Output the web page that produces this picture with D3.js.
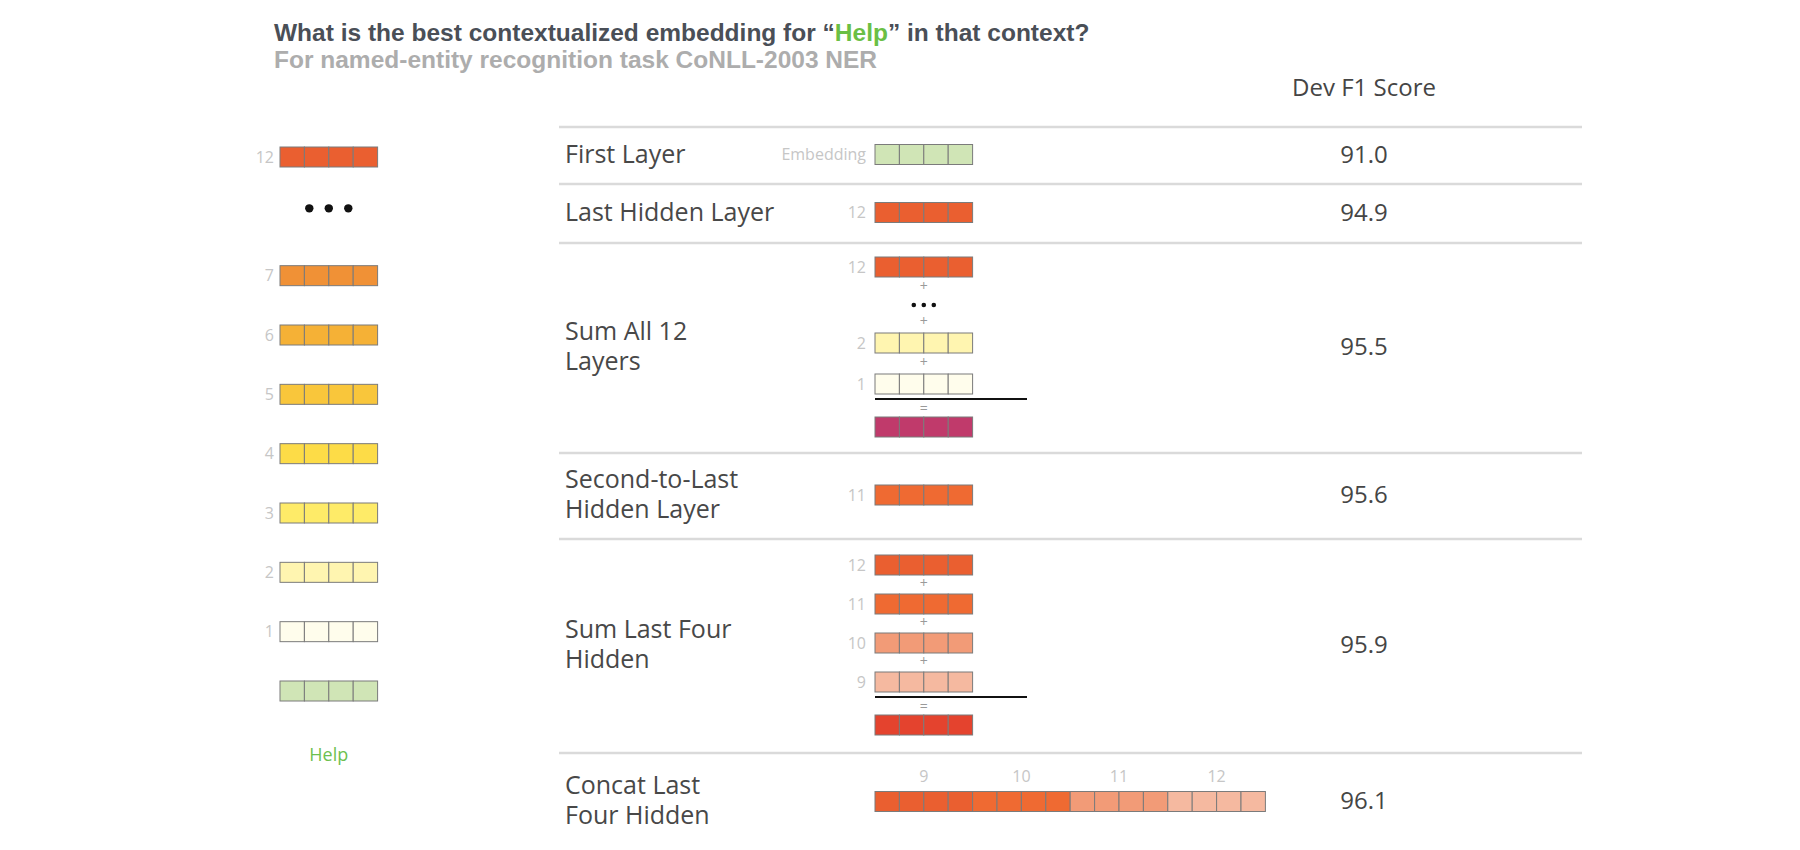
<!DOCTYPE html>
<html>
<head>
<meta charset="utf-8">
<script src="https://cdn.jsdelivr.net/npm/d3@7"></script>
<style>
  body { margin: 0; background: #fff; }
  text { font-family: "Open Sans", sans-serif; }
  .head { font-family: "Liberation Sans", Arial, sans-serif; font-weight: bold; }
</style>
</head>
<body>
<svg id="chart" width="1800" height="850"></svg>
<script>
// ---- data ----
const titleParts = ["What is the best contextualized embedding for \u201c", "Help", "\u201d in that context?"];
const subtitle = "For named-entity recognition task CoNLL-2003 NER";
const scoreHeader = "Dev F1 Score";
const token = "Help";

// layers shown down the left side, "…" stands for the skipped ones
const leftLayers = ["12", "…", "7", "6", "5", "4", "3", "2", "1", "emb"];
const layerColor = {
  "12": "#ea5f30", "11": "#ef6a32", "10": "#f29b77", "9": "#f5b9a0",
  "7": "#f09136", "6": "#f5b136", "5": "#f9c63b", "4": "#fddc47",
  "3": "#feeb68", "2": "#fff5b0", "1": "#fffdec", "emb": "#d0e5b6",
  "sumAll": "#c03a6b", "sumLast4": "#e4432e"
};

const methods = [["First Layer"], ["Last Hidden Layer"], ["Sum All 12", "Layers"],
                 ["Second-to-Last", "Hidden Layer"], ["Sum Last Four", "Hidden"], ["Concat Last", "Four Hidden"]];
const devF1 = [91.0, 94.9, 95.5, 95.6, 95.9, 96.1];
const inputs = [["emb"], ["12"], ["12", "…", "2", "1"], ["11"], ["12", "11", "10", "9"], ["12", "11", "10", "9"]];
const combine = ["none", "none", "sum", "none", "sum", "concat"];
const outputs = [null, null, "sumAll", null, "sumLast4", null];
const concatLabels = ["9", "10", "11", "12"];

// ---- layout ----
const svg = d3.select("#chart");
const CELL = 24.4, VH = 20, NCELL = 4;
const ROW_H = [57, 59, 210, 86, 214, 97];
const TABLE_TOP = 127, TABLE_X0 = 559, TABLE_X1 = 1582;
const LABEL_X = 565, VEC_X = 875, SCORE_X = 1364, LH = 30;
const rowTop = [TABLE_TOP, ...d3.cumsum(ROW_H).map(v => v + TABLE_TOP)].slice(0, ROW_H.length);

function layerLabel(l) { return l === "emb" ? "Embedding" : l; }

// draws a word vector of cells
function vector(g, x, y, fills) {
  const cx = d3.scaleBand().domain(d3.range(fills.length)).range([0, fills.length * CELL]);
  g.append("g").attr("transform", `translate(${x},${y})`)
    .selectAll("rect").data(fills).join("rect")
    .attr("x", (d, i) => cx(i)).attr("y", 0)
    .attr("width", cx.bandwidth()).attr("height", VH)
    .attr("fill", d => d).attr("stroke", "#7b7b7b").attr("stroke-width", 1);
}
function sideLabel(g, x, y, txt) {
  g.append("text").attr("x", x).attr("y", y + VH / 2).attr("dy", "0.35em")
    .attr("text-anchor", "end").attr("font-size", 16).attr("fill", "#c6c6c6").text(txt);
}
function dots(g, cx, cy, r, gap) {
  g.selectAll(null).data([-1, 0, 1]).join("circle")
    .attr("cx", d => cx + d * gap).attr("cy", cy).attr("r", r).attr("fill", "#111");
}
function sign(g, cx, cy, s) {
  g.append("text").attr("x", cx).attr("y", cy).attr("dy", "0.35em")
    .attr("text-anchor", "middle").attr("font-size", 14).attr("fill", "#9a9a9a").text(s);
}

// ---- title ----
const t = svg.append("text").attr("class", "head").attr("x", 274).attr("y", 41)
  .attr("font-size", 24.5).attr("fill", "#4a4f57");
t.selectAll("tspan").data(titleParts).join("tspan")
  .attr("fill", (d, i) => i === 1 ? "#6abf45" : null).text(d => d);
svg.append("text").attr("class", "head").attr("x", 274).attr("y", 68)
  .attr("font-size", 24.5).attr("fill", "#adadad").text(subtitle);

// ---- left column: layers of the token ----
const yLeft = d3.scalePoint().domain(leftLayers).range([147, 681]);
const LEFT_X = 280;
const left = svg.append("g");
leftLayers.forEach(l => {
  if (l === "…") {
    dots(left, LEFT_X + NCELL * CELL / 2, yLeft(l) + 2, 4.2, 19.5);
    return;
  }
  vector(left, LEFT_X, yLeft(l), d3.range(NCELL).map(() => layerColor[l]));
  if (l !== "emb") sideLabel(left, LEFT_X - 6, yLeft(l), l);
});
left.append("text").attr("x", LEFT_X + NCELL * CELL / 2).attr("y", 761)
  .attr("text-anchor", "middle").attr("font-size", 18).attr("fill", "#6dbf4f").text(token);

// ---- table ----
svg.append("text").attr("x", SCORE_X).attr("y", 96).attr("text-anchor", "middle")
  .attr("font-size", 24).attr("fill", "#454545").text(scoreHeader);

const table = svg.append("g");
table.selectAll("line.row").data(rowTop).join("line").attr("class", "row")
  .attr("x1", TABLE_X0).attr("x2", TABLE_X1).attr("y1", d => d).attr("y2", d => d)
  .attr("stroke", "#dadada").attr("stroke-width", 2.5);

methods.forEach((lines, i) => {
  const cy = rowTop[i] + ROW_H[i] / 2;
  const g = table.append("g");

  lines.forEach((d, k) => {
    g.append("text").attr("x", LABEL_X)
      .attr("y", cy - (lines.length - 1) * LH / 2 + k * LH + 7)
      .attr("font-size", 25).attr("fill", "#484848").text(d);
  });

  g.append("text").attr("x", SCORE_X).attr("y", cy + 7).attr("text-anchor", "middle")
    .attr("font-size", 24).attr("fill", "#454545").text(devF1[i].toFixed(1));

  const vc = VEC_X + NCELL * CELL / 2;
  if (combine[i] === "none") {
    const l = inputs[i][0];
    vector(g, VEC_X, cy - VH / 2 - 1, d3.range(NCELL).map(() => layerColor[l]));
    sideLabel(g, VEC_X - 9, cy - VH / 2 - 1, layerLabel(l));
  } else if (combine[i] === "concat") {
    const fills = inputs[i].flatMap(l => d3.range(NCELL).map(() => layerColor[l]));
    vector(g, VEC_X, cy - VH / 2, fills);
    const gx = d3.scaleBand().domain(concatLabels).range([VEC_X, VEC_X + fills.length * CELL]);
    g.selectAll("text.grp").data(concatLabels).join("text").attr("class", "grp")
      .attr("x", d => gx(d) + gx.bandwidth() / 2).attr("y", cy - VH / 2 - 10)
      .attr("text-anchor", "middle").attr("font-size", 16).attr("fill", "#c6c6c6").text(d => d);
  } else {
    // stacked sum: vectors joined by "+", a rule, "=", and the result
    const PLUS = inputs[i].includes("…") ? 21 : 19, DOTS = 14;
    const items = [];
    inputs[i].forEach((l, k) => {
      if (k > 0) items.push({ type: "plus", h: PLUS });
      items.push(l === "…" ? { type: "dots", h: DOTS } : { type: "vec", l, h: VH });
    });
    const stackH = d3.sum(items, d => d.h) + 5 + 18 + VH;
    let y = cy - stackH / 2 - 1;
    items.forEach(it => {
      if (it.type === "vec") {
        vector(g, VEC_X, y, d3.range(NCELL).map(() => layerColor[it.l]));
        sideLabel(g, VEC_X - 9, y, it.l);
      } else if (it.type === "plus") {
        sign(g, vc, y + it.h / 2 - 1, "+");
      } else {
        dots(g.append("g"), vc, y + it.h / 2, 2.3, 10);
      }
      y += it.h;
    });
    const ruleY = y + 5;
    g.append("line").attr("x1", VEC_X).attr("x2", VEC_X + 152).attr("y1", ruleY).attr("y2", ruleY)
      .attr("stroke", "#111").attr("stroke-width", 2);
    sign(g, vc, ruleY + 9, "=");
    vector(g, VEC_X, ruleY + 18, d3.range(NCELL).map(() => layerColor[outputs[i]]));
  }
});
</script>
</body>
</html>
